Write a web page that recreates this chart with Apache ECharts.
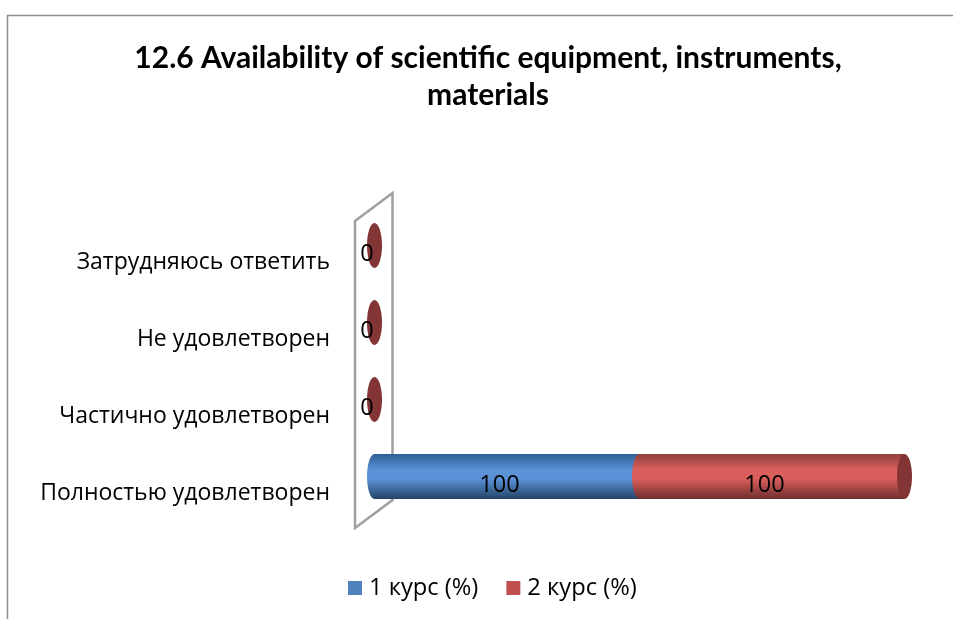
<!DOCTYPE html>
<html>
<head>
<meta charset="utf-8">
<style>
  html, body { margin: 0; padding: 0; background: #fff; }
  #chart { width: 953px; height: 619px; }
</style>
<script src="https://cdn.jsdelivr.net/npm/echarts@6/dist/echarts.min.js"></script>
</head>
<body>
<div id="chart"></div>
<script>
const titleText = '12.6 Availability of scientific equipment, instruments,\nmaterials';
const categories = ['Полностью удовлетворен', 'Частично удовлетворен', 'Не удовлетворен', 'Затрудняюсь ответить'];
const course1 = [100, 0, 0, 0];
const course2 = [100, 0, 0, 0];
const seriesNames = ['1 курс (%)', '2 курс (%)'];

const gradient = (top, mid, bottom) => new echarts.graphic.LinearGradient(0, 0, 0, 1, [
    { offset: 0, color: top },
    { offset: 0.35, color: mid },
    { offset: 0.55, color: mid },
    { offset: 1, color: bottom }
]);
const blueFill = gradient('#2f5f94', '#5b92d8', '#234468');
const redFill = gradient('#8f3f3e', '#da5f5c', '#6c2e2d');
const capColor = '#823534';

// one cylinder piece: data item is [end, category, start]
const renderCylinder = (fill, isLast) => (params, api) => {
    const start = api.coord([api.value(2), api.value(1)]);
    const end = api.coord([api.value(0), api.value(1)]);
    const h = api.size([0, 1])[1] * 0.585;
    const rx = 7.5;
    const cy = start[1];
    const children = [];
    if (api.value(0) > api.value(2)) {
        children.push({ type: 'ellipse', shape: { cx: start[0], cy: cy, rx: rx, ry: h / 2 }, style: { fill: fill } });
        children.push({ type: 'rect', shape: { x: start[0], y: cy - h / 2, width: end[0] - start[0], height: h }, style: { fill: fill } });
    }
    if (isLast) {
        children.push({ type: 'ellipse', shape: { cx: end[0], cy: cy, rx: rx, ry: h / 2 }, style: { fill: capColor } });
    }
    // zero labels of both courses land on the same spot, the last series draws it
    if (api.value(0) > api.value(2) || isLast) {
        children.push({
            type: 'text',
            x: (start[0] + end[0]) / 2 - 7.5,
            y: cy + 9,
            style: {
                text: String(api.value(0) - api.value(2)),
                font: '23.5px "Open Sans", sans-serif',
                fill: '#000',
                align: 'center',
                verticalAlign: 'middle'
            }
        });
    }
    return { type: 'group', children: children };
};

const renderWall = (params) => {
    const c = params.coordSys;
    const left = c.x - 19.5, right = c.x + 18;
    const top = c.y, bottom = c.y + c.height;
    return {
        type: 'polygon',
        shape: { points: [[left, top + 14], [right, top - 14], [right, bottom - 15], [left, bottom + 13]] },
        style: { fill: 'none', stroke: '#a0a0a0', lineWidth: 2.5 }
    };
};

const myChart = echarts.init(document.getElementById('chart'));

const option = {
    backgroundColor: '#fff',
    animation: false,
    title: {
        text: titleText,
        left: 483,
        top: 35,
        textAlign: 'center',
        textStyle: {
            fontFamily: 'Lato, sans-serif',
            fontSize: 30,
            fontWeight: 'bold',
            color: '#000',
            lineHeight: 37
        }
    },
    legend: {
        data: seriesNames,
        left: 343,
        top: 571,
        icon: 'rect',
        itemWidth: 14,
        itemHeight: 14,
        itemGap: 28,
        textStyle: { fontFamily: '"Open Sans", sans-serif', fontSize: 23.7, color: '#000', padding: [0, 0, 0, 2] }
    },
    grid: { left: 374.5, top: 207, width: 530, height: 308, containLabel: false },
    xAxis: { type: 'value', min: 0, max: 200, show: false },
    yAxis: {
        type: 'category',
        data: categories,
        axisLine: { show: false },
        axisTick: { show: false },
        axisLabel: { margin: 44.5, verticalAlign: 'top', lineHeight: 34, fontFamily: '"Open Sans", sans-serif', fontSize: 23, color: '#000' }
    },
    graphic: [{
        type: 'polyline',
        shape: { points: [[7.5, 619], [7.5, 15.5], [953, 15.5]] },
        style: { fill: 'none', stroke: '#8c8c8c', lineWidth: 1.5 }
    }],
    series: [
        {
            type: 'custom',
            name: 'wall',
            z: 1,
            clip: false,
            silent: true,
            renderItem: renderWall,
            data: [[0, 0]],
            encode: { x: 0, y: 1 }
        },
        {
            type: 'custom',
            name: seriesNames[0],
            z: 2,
            clip: false,
            itemStyle: { color: '#4f81bd' },
            renderItem: renderCylinder(blueFill, false),
            data: course1.map((v, i) => [v, i, 0]),
            encode: { x: 0, y: 1 }
        },
        {
            type: 'custom',
            name: seriesNames[1],
            z: 3,
            clip: false,
            itemStyle: { color: '#c0504d' },
            renderItem: renderCylinder(redFill, true),
            data: course2.map((v, i) => [course1[i] + v, i, course1[i]]),
            encode: { x: 0, y: 1 }
        }
    ]
};

myChart.setOption(option);
</script>
</body>
</html>
